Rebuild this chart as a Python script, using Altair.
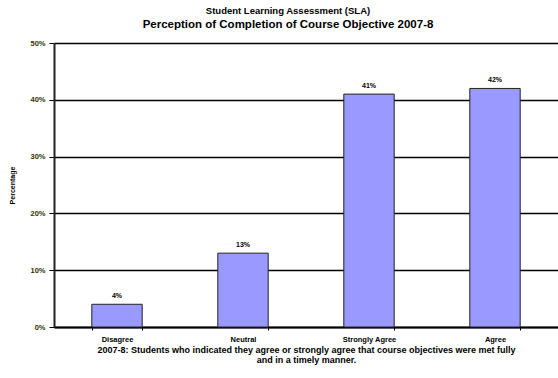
import altair as alt
import pandas as pd

categories = ["Disagree", "Neutral", "Strongly Agree", "Agree"]
values = [4, 13, 41, 42]
labels = ["4%", "13%", "41%", "42%"]
y_ticks = [0, 10, 20, 30, 40, 50]

title_line1 = "Student Learning Assessment (SLA)"
title_line2 = "Perception of Completion of Course Objective 2007-8"
footnote = [
    "2007-8: Students who indicated they agree or strongly agree that course objectives were met fully",
    "and in a timely manner.",
]

df = pd.DataFrame({"cat": categories, "val": values, "lab": labels})

FONT = "Liberation Sans"

x = alt.X(
    "cat:N",
    sort=categories,
    scale=alt.Scale(paddingInner=0.6, paddingOuter=0.3),
    axis=alt.Axis(
        title=footnote,
        titleFontSize=9,
        titleFont=FONT,
        titleFontWeight="bold",
        titleColor="black",
        titlePadding=3,
        titleLineHeight=10,
        labelAngle=0,
        labelFontSize=7.5,
        labelFont=FONT,
        labelFontWeight="bold",
        labelColor="black",
        labelPadding=5,
        tickBand="extent",
        tickSize=3,
        tickColor="black",
        domainColor="black",
        domainWidth=2,
        grid=False,
    ),
)

y = alt.Y(
    "val:Q",
    scale=alt.Scale(domain=[0, 50], nice=False),
    axis=alt.Axis(
        values=y_ticks,
        labelExpr="datum.value + '%'",
        title="Percentage",
        titleFontSize=7,
        titleFont=FONT,
        titleFontWeight="bold",
        titleColor="black",
        titlePadding=14,
        labelFontSize=7.5,
        labelFont=FONT,
        labelFontWeight="bold",
        labelColor="#333300",
        labelPadding=4,
        tickSize=5,
        tickColor="black",
        domainColor="#222222",
        domainWidth=2,
        grid=True,
        gridColor="black",
        gridWidth=1.5,
    ),
)

bars = alt.Chart(df).mark_bar(
    fill="#9999FF", stroke="#222222", strokeWidth=1
).encode(x=x, y=y)

text = alt.Chart(df).mark_text(
    dy=-8, fontSize=7, font=FONT, fontWeight="bold", color="black"
).encode(x=alt.X("cat:N", sort=categories), y="val:Q", text="lab:N")

chart = (
    alt.layer(bars, text)
    .properties(
        width=504,
        height=284,
        autosize=alt.AutoSizeParams(type="none"),
        padding={"left": 54, "top": 43, "right": 0, "bottom": 51},
        title=alt.TitleParams(
            text=title_line1,
            subtitle=title_line2,
            fontSize=9.5,
            subtitleFontSize=11.5,
            font=FONT,
            subtitleFont=FONT,
            fontWeight="bold",
            subtitleFontWeight="bold",
            color="black",
            subtitleColor="black",
            anchor="middle",
            dx=-18,
            offset=9,
            subtitlePadding=3,
        ),
    )
    .configure_view(stroke=None)
    .configure(background="white")
)

chart.save("out.html", embed_options={"renderer": "svg", "actions": False})
